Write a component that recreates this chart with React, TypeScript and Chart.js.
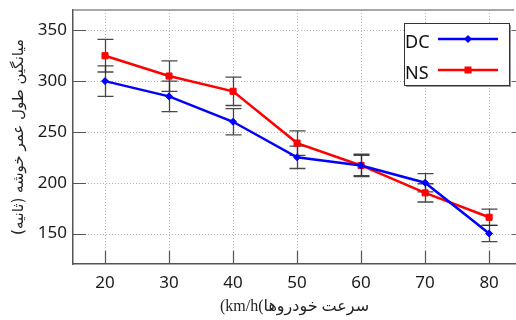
import React, { useEffect, useRef } from "react";
import { Chart, registerables } from "chart.js";

Chart.register(...registerables);

const speeds = [20, 30, 40, 50, 60, 70, 80];
const dcMean = [300, 285, 260, 225, 217, 200, 150];
const dcErr = [15, 15, 13, 11, 11, 9, 8];
const nsMean = [325, 305, 290, 239, 217, 190, 166];
const nsErr = [16, 15, 14, 12, 10, 9, 8];
const yTicks = [150, 200, 250, 300, 350];
const seriesNames = ["DC", "NS"];
const xTitle = "(km/h(سرعت خودروها";
const yTitle = "میانگین طول عمر خوشه (ثانیه)\u200F";

const errors = [dcErr, nsErr];
const FONT = "'Noto Sans', 'DejaVu Sans', sans-serif";

const framePlugin = {
  id: "frame",
  beforeDatasetsDraw(chart: any) {
    const { ctx, chartArea: a, scales } = chart;
    ctx.save();
    // dotted grid
    ctx.strokeStyle = "#b4b4b4";
    ctx.lineWidth = 1;
    ctx.setLineDash([1, 2]);
    ctx.beginPath();
    for (const v of speeds) {
      const x = Math.round(scales.x.getPixelForValue(v)) + 0.5;
      ctx.moveTo(x, a.top);
      ctx.lineTo(x, a.bottom);
    }
    for (const v of yTicks) {
      const y = Math.round(scales.y.getPixelForValue(v)) + 0.5;
      ctx.moveTo(a.left, y);
      ctx.lineTo(a.right - 2, y);
    }
    ctx.stroke();
    ctx.setLineDash([]);
    // top border
    ctx.strokeStyle = "#8a8a8a";
    ctx.lineWidth = 1.5;
    ctx.beginPath();
    ctx.moveTo(a.left, a.top);
    ctx.lineTo(a.right - 2, a.top);
    ctx.stroke();
    // inward ticks
    ctx.strokeStyle = "#555";
    ctx.lineWidth = 1.2;
    ctx.beginPath();
    const tl = 13;
    for (const v of speeds) {
      const x = Math.round(scales.x.getPixelForValue(v)) + 0.5;
      ctx.moveTo(x, a.bottom);
      ctx.lineTo(x, a.bottom - tl);
    }
    for (const v of yTicks) {
      const y = Math.round(scales.y.getPixelForValue(v)) + 0.5;
      ctx.moveTo(a.left, y);
      ctx.lineTo(a.left + tl, y);
    }
    ctx.stroke();
    ctx.strokeStyle = "#666";
    ctx.beginPath();
    for (const v of yTicks) {
      const y = Math.round(scales.y.getPixelForValue(v)) + 0.5;
      ctx.moveTo(a.right, y);
      ctx.lineTo(a.right - 4, y);
    }
    ctx.stroke();
    // error bars
    ctx.strokeStyle = "rgba(40,40,40,0.85)";
    ctx.lineWidth = 1.3;
    chart.data.datasets.forEach((ds: any, di: number) => {
      const err = errors[di];
      ds.data.forEach((p: any, i: number) => {
        const x = Math.round(scales.x.getPixelForValue(p.x)) + 0.5;
        const y1 = scales.y.getPixelForValue(p.y + err[i]);
        const y2 = scales.y.getPixelForValue(p.y - err[i]);
        ctx.beginPath();
        ctx.moveTo(x, y1);
        ctx.lineTo(x, y2);
        ctx.moveTo(x - 8, y1);
        ctx.lineTo(x + 8, y1);
        ctx.moveTo(x - 8, y2);
        ctx.lineTo(x + 8, y2);
        ctx.stroke();
      });
    });
    ctx.restore();
  },
};

const legendPlugin = {
  id: "boxLegend",
  afterDraw(chart: any) {
    const { ctx } = chart;
    const bx = 404, by = 23, bw = 105, bh = 62;
    ctx.save();
    ctx.fillStyle = "#9a9a9a";
    ctx.fillRect(bx + 2, by + 2, bw, bh);
    ctx.fillStyle = "#fff";
    ctx.fillRect(bx, by, bw, bh);
    ctx.strokeStyle = "#333";
    ctx.lineWidth = 1;
    ctx.strokeRect(bx + 0.5, by + 0.5, bw, bh);
    chart.data.datasets.forEach((ds: any, i: number) => {
      const ty = by + 19 + i * 31;
      ctx.fillStyle = "#111";
      ctx.font = `18px ${FONT}`;
      ctx.textBaseline = "middle";
      ctx.textAlign = "left";
      ctx.fillText(ds.label, bx + 1, ty + 1);
      const ly = ty - 3;
      ctx.strokeStyle = ds.borderColor;
      ctx.lineWidth = 2.5;
      ctx.beginPath();
      ctx.moveTo(bx + 34, ly);
      ctx.lineTo(bx + 94, ly);
      ctx.stroke();
      ctx.fillStyle = ds.pointBackgroundColor;
      ctx.beginPath();
      if (ds.pointStyle === "rect") {
        ctx.rect(bx + 64 - 3.5, ly - 3.5, 7, 7);
      } else {
        ctx.moveTo(bx + 64 - 4, ly);
        ctx.lineTo(bx + 64, ly - 4);
        ctx.lineTo(bx + 64 + 4, ly);
        ctx.lineTo(bx + 64, ly + 4);
        ctx.closePath();
      }
      ctx.fill();
    });
    ctx.restore();
  },
};

export default function App() {
  const ref = useRef<HTMLCanvasElement>(null);
  useEffect(() => {
    const chart = new Chart(ref.current!, {
      type: "line",
      data: {
        datasets: [
          {
            label: seriesNames[0],
            data: speeds.map((x, i) => ({ x, y: dcMean[i] })),
            borderColor: "#0000ff",
            backgroundColor: "#0000ff",
            pointBackgroundColor: "#0000ff",
            pointBorderColor: "#0000ff",
            borderWidth: 2.5,
            pointStyle: "rectRot",
            pointRadius: 3.5,
            pointBorderWidth: 1,
          },
          {
            label: seriesNames[1],
            data: speeds.map((x, i) => ({ x, y: nsMean[i] })),
            borderColor: "#ff0000",
            backgroundColor: "#ff0000",
            pointBackgroundColor: "#ff0000",
            pointBorderColor: "#ff0000",
            borderWidth: 2.5,
            pointStyle: "rect",
            pointRadius: 4.3,
            pointBorderWidth: 1,
          },
        ],
      },
      options: {
        animation: false,
        responsive: false,
        maintainAspectRatio: false,
        layout: { autoPadding: false, padding: { top: 10, right: 0, left: 0, bottom: 0 } },
        plugins: { legend: { display: false }, tooltip: { enabled: false } },
        scales: {
          x: {
            type: "linear",
            min: 15,
            max: 84.2,
            afterBuildTicks: (s: any) => {
              s.ticks = speeds.map((v) => ({ value: v }));
            },
            afterFit: (s: any) => {
              s.height = 56;
              s.paddingLeft = 0;
              s.paddingRight = 0;
            },
            grid: { display: false, drawTicks: false },
            border: { display: true, color: "#555", width: 1.5 },
            ticks: {
              padding: 9,
              color: "#1a1a1a",
              font: { family: FONT, size: 17 },
              maxRotation: 0,
              autoSkip: false,
            },
            title: {
              display: true,
              text: xTitle,
              color: "#222",
              font: { family: "'Liberation Serif', 'DejaVu Sans', serif", size: 16 },
              padding: { top: 0, bottom: 4 },
            },
          },
          y: {
            min: 120,
            max: 370,
            afterBuildTicks: (s: any) => {
              s.ticks = yTicks.map((v) => ({ value: v }));
            },
            afterFit: (s: any) => {
              s.width = 73;
              s.paddingTop = 0;
              s.paddingBottom = 0;
            },
            grid: { display: false, drawTicks: false },
            border: { display: true, color: "#555", width: 1.5 },
            ticks: {
              padding: 6,
              color: "#1a1a1a",
              font: { family: FONT, size: 17 },
              autoSkip: false,
            },
            title: {
              display: true,
              text: yTitle,
              color: "#222",
              font: { family: "'DejaVu Sans', sans-serif", size: 15 },
              padding: { top: 10, bottom: 0 },
            },
          },
        },
      },
      plugins: [framePlugin, legendPlugin],
    } as any);
    return () => chart.destroy();
  }, []);
  return (
    <div style={{ position: "fixed", left: 0, top: 0, width: 516, height: 320, overflow: "hidden", background: "#fff" }}>
      <canvas ref={ref} width={516} height={320} style={{ display: "block", width: 516, height: 320 }} />
    </div>
  );
}
